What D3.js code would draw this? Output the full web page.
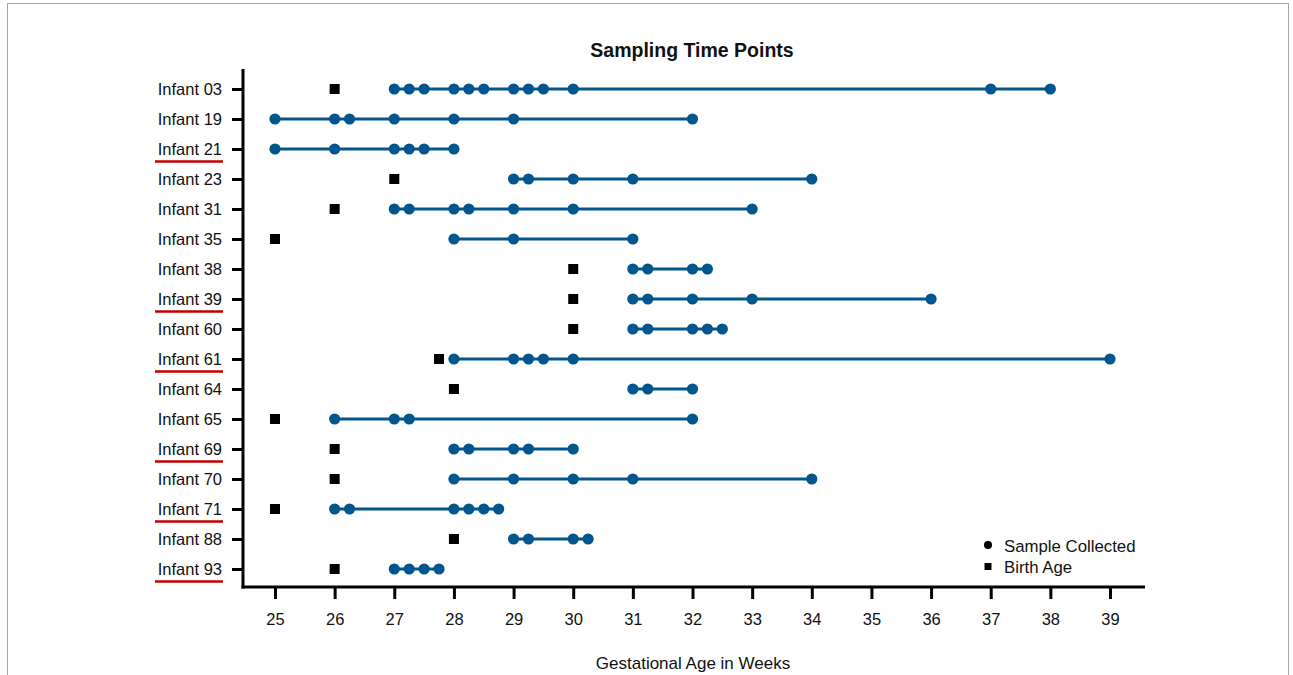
<!DOCTYPE html>
<html>
<head>
<meta charset="utf-8">
<script src="https://cdn.jsdelivr.net/npm/d3@7"></script>
<style>
  body { margin: 0; background: #fff; }
  svg { display: block; font-family: "Liberation Sans", Arial, sans-serif; }
</style>
</head>
<body>
<svg width="1293" height="675"></svg>
<script>
// sampling time points per infant (gestational weeks)
var infants = ["Infant 03", "Infant 19", "Infant 21", "Infant 23", "Infant 31", "Infant 35",
  "Infant 38", "Infant 39", "Infant 60", "Infant 61", "Infant 64", "Infant 65",
  "Infant 69", "Infant 70", "Infant 71", "Infant 88", "Infant 93"];

// birth age, null where not shown
var birthAge = [26, null, null, 27, 26, 25, 30, 30, 30, 27.75, 28, 25, 26, 26, 25, 28, 26];

var samples = [
  [27, 27.25, 27.5, 28, 28.25, 28.5, 29, 29.25, 29.5, 30, 37, 38],
  [25, 26, 26.25, 27, 28, 29, 32],
  [25, 26, 27, 27.25, 27.5, 28],
  [29, 29.25, 30, 31, 34],
  [27, 27.25, 28, 28.25, 29, 30, 33],
  [28, 29, 31],
  [31, 31.25, 32, 32.25],
  [31, 31.25, 32, 33, 36],
  [31, 31.25, 32, 32.25, 32.5],
  [28, 29, 29.25, 29.5, 30, 39],
  [31, 31.25, 32],
  [26, 27, 27.25, 32],
  [28, 28.25, 29, 29.25, 30],
  [28, 29, 30, 31, 34],
  [26, 26.25, 28, 28.25, 28.5, 28.75],
  [29, 29.25, 30, 30.25],
  [27, 27.25, 27.5, 27.75]
];

// labels marked with a red underline
var underlined = ["Infant 21", "Infant 39", "Infant 61", "Infant 69", "Infant 71", "Infant 93"];

var weekTicks = d3.range(25, 40);

var blue = "#02568e";

var svg = d3.select("svg");

// thin frame around the figure
svg.append("rect")
    .attr("x", 7.5).attr("y", 3.5)
    .attr("width", 1281).attr("height", 700)
    .attr("fill", "none")
    .attr("stroke", "#a6a6a6")
    .attr("stroke-width", 1);

var x = d3.scaleLinear().domain([25, 39]).range([275, 1110]);
var y = d3.scalePoint().domain(infants).range([89, 569]);

var axisX = 243, axisY = 587;

// x axis
var gx = svg.append("g")
    .attr("transform", "translate(0," + axisY + ")")
    .call(d3.axisBottom(x).tickValues(weekTicks).tickSize(12).tickPadding(14).tickFormat(d3.format("d")));
gx.select(".domain").remove();
gx.selectAll(".tick line").attr("stroke", "#000").attr("stroke-width", 3);
gx.selectAll(".tick text")
    .attr("font-size", 16.5)
    .attr("fill", "#111")
    .attr("font-family", "Liberation Sans, Arial, sans-serif");

// y axis
var gy = svg.append("g")
    .attr("transform", "translate(" + axisX + ",0)")
    .call(d3.axisLeft(y).tickSize(11).tickPadding(10));
gy.select(".domain").remove();
gy.selectAll(".tick line").attr("stroke", "#000").attr("stroke-width", 3);
gy.selectAll(".tick text")
    .attr("font-size", 16.5)
    .attr("fill", "#111")
    .attr("font-family", "Liberation Sans, Arial, sans-serif");

// axis lines
svg.append("line")
    .attr("x1", axisX).attr("x2", axisX)
    .attr("y1", 69).attr("y2", axisY + 1.5)
    .attr("stroke", "#000").attr("stroke-width", 3);
svg.append("line")
    .attr("x1", axisX - 1.5).attr("x2", 1145)
    .attr("y1", axisY).attr("y2", axisY)
    .attr("stroke", "#000").attr("stroke-width", 3);

// red underlines
svg.append("g").selectAll("line")
    .data(underlined)
    .enter().append("line")
      .attr("x1", 155).attr("x2", 223)
      .attr("y1", function(d) { return y(d) + 12.5; })
      .attr("y2", function(d) { return y(d) + 12.5; })
      .attr("stroke", "#c00000")
      .attr("stroke-width", 2.5);

// ranges
var rows = infants.map(function(name, i) {
  return { name: name, birth: birthAge[i], samples: samples[i] };
});

svg.append("g").selectAll("line")
    .data(rows)
    .enter().append("line")
      .attr("x1", function(d) { return x(d3.min(d.samples)); })
      .attr("x2", function(d) { return x(d3.max(d.samples)); })
      .attr("y1", function(d) { return y(d.name); })
      .attr("y2", function(d) { return y(d.name); })
      .attr("stroke", blue)
      .attr("stroke-width", 3.2);

// sample points
var pts = [];
rows.forEach(function(r) {
  r.samples.forEach(function(s) { pts.push({ name: r.name, week: s }); });
});

svg.append("g").selectAll("circle")
    .data(pts)
    .enter().append("circle")
      .attr("cx", function(d) { return x(d.week); })
      .attr("cy", function(d) { return y(d.name); })
      .attr("r", 5.6)
      .attr("fill", blue);

// birth age squares
svg.append("g").selectAll("rect")
    .data(rows.filter(function(d) { return d.birth != null; }))
    .enter().append("rect")
      .attr("x", function(d) { return x(d.birth) - 5; })
      .attr("y", function(d) { return y(d.name) - 5; })
      .attr("width", 10).attr("height", 10)
      .attr("fill", "#000");

// title
svg.append("text")
    .attr("x", 692).attr("y", 50)
    .attr("text-anchor", "middle")
    .attr("dominant-baseline", "central")
    .attr("font-size", 19.5)
    .attr("font-weight", "bold")
    .attr("fill", "#111")
    .text("Sampling Time Points");

// x title
svg.append("text")
    .attr("x", 693).attr("y", 663)
    .attr("text-anchor", "middle")
    .attr("dominant-baseline", "central")
    .attr("font-size", 17)
    .attr("fill", "#111")
    .text("Gestational Age in Weeks");

// legend
var legend = svg.append("g").attr("transform", "translate(988,545)");
legend.append("circle").attr("cx", 0).attr("cy", 0).attr("r", 4).attr("fill", "#000");
legend.append("rect").attr("x", -3.5).attr("y", 18).attr("width", 7).attr("height", 7).attr("fill", "#000");
legend.append("text")
    .attr("x", 16).attr("y", 1)
    .attr("dominant-baseline", "central")
    .attr("font-size", 16.8).attr("fill", "#111")
    .text("Sample Collected");
legend.append("text")
    .attr("x", 16).attr("y", 22)
    .attr("dominant-baseline", "central")
    .attr("font-size", 16.8).attr("fill", "#111")
    .text("Birth Age");
</script>
</body>
</html>
